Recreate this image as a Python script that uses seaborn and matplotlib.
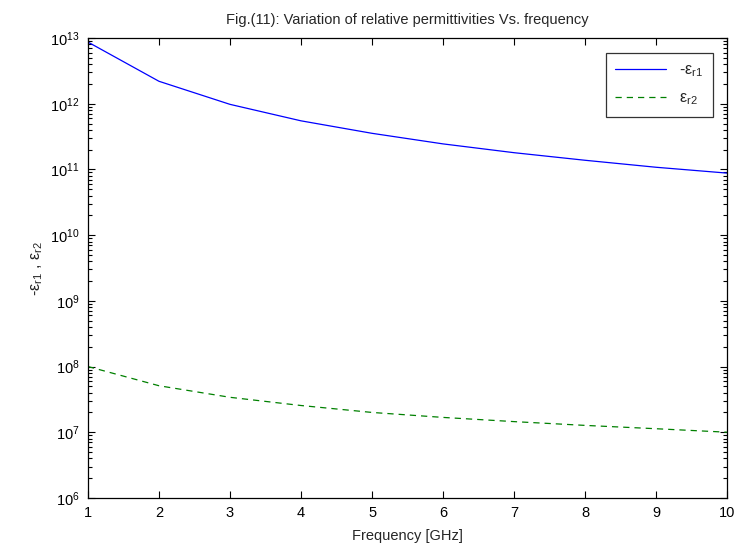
import matplotlib
matplotlib.use("Agg")
import matplotlib.pyplot as plt
import seaborn as sns
import pandas as pd
from matplotlib.ticker import LogLocator, NullFormatter

# Frequency samples [GHz] and the two relative permittivity components
freq_ghz = [1, 2, 3, 4, 5, 6, 7, 8, 9, 10]
neg_eps_r1 = [8.7e12, 2.2e12, 9.8e11, 5.5e11, 3.55e11, 2.45e11, 1.8e11, 1.38e11, 1.08e11, 8.8e10]
eps_r2 = [1.0e8, 5.1e7, 3.4e7, 2.55e7, 2.0e7, 1.68e7, 1.45e7, 1.27e7, 1.13e7, 1.0e7]

series_labels = [r"-ε$_{\rm r1}$", r"ε$_{\rm r2}$"]
title_text = "Fig.(11): Variation of relative permittivities Vs. frequency"
xlabel_text = "Frequency [GHz]"
ylabel_text = r"-ε$_{\rm r1}$ , ε$_{\rm r2}$"

sns.set_style("white")
plt.rcParams["font.family"] = ["Liberation Sans", "DejaVu Sans"]
plt.rcParams["mathtext.fontset"] = "custom"
plt.rcParams["mathtext.rm"] = "Liberation Sans"
plt.rcParams["mathtext.it"] = "Liberation Sans"
plt.rcParams["mathtext.default"] = "regular"

df = pd.DataFrame({
    "freq": freq_ghz * 2,
    "value": neg_eps_r1 + eps_r2,
    "series": [series_labels[0]] * len(freq_ghz) + [series_labels[1]] * len(freq_ghz),
})

fig = plt.figure(figsize=(7.39, 5.52), dpi=100)
ax = fig.add_axes([0.119, 0.098, 0.865, 0.833])

sns.lineplot(data=df, x="freq", y="value", hue="series", style="series",
             palette={series_labels[0]: "#0000ff", series_labels[1]: "#008000"},
             dashes={series_labels[0]: "", series_labels[1]: (5, 4)},
             linewidth=0.9, ax=ax, legend=False)

ax.set_yscale("log")
ax.set_xlim(1, 10)
ax.set_ylim(1e6, 1e13)
ax.set_xticks(freq_ghz)
ax.yaxis.set_major_locator(LogLocator(base=10, numticks=20))
ax.yaxis.set_minor_locator(LogLocator(base=10, subs=range(2, 10), numticks=100))
ax.yaxis.set_minor_formatter(NullFormatter())

ax.tick_params(which="both", direction="in", top=True, right=True, left=True,
               bottom=True, labelsize=10.5, colors="black", width=0.8)
ax.tick_params(which="major", length=5, pad=6)
ax.tick_params(which="minor", length=3)
for s in ax.spines.values():
    s.set_color("black")
    s.set_linewidth(0.9)

ax.set_title(title_text, fontsize=10.5, pad=10)
ax.set_xlabel(xlabel_text, fontsize=10.5, labelpad=6)
ax.set_ylabel(ylabel_text, fontsize=11.5, labelpad=4)

handles = ax.get_lines()[:2]
leg = ax.legend(handles, series_labels, loc="upper right", fontsize=11.5,
                frameon=True, fancybox=False, edgecolor="black",
                handlelength=3.2, borderpad=0.6, labelspacing=0.7,
                bbox_to_anchor=(0.99, 0.985))
leg.get_frame().set_linewidth(0.9)

fig.savefig("out.png", dpi=100, facecolor="white")
